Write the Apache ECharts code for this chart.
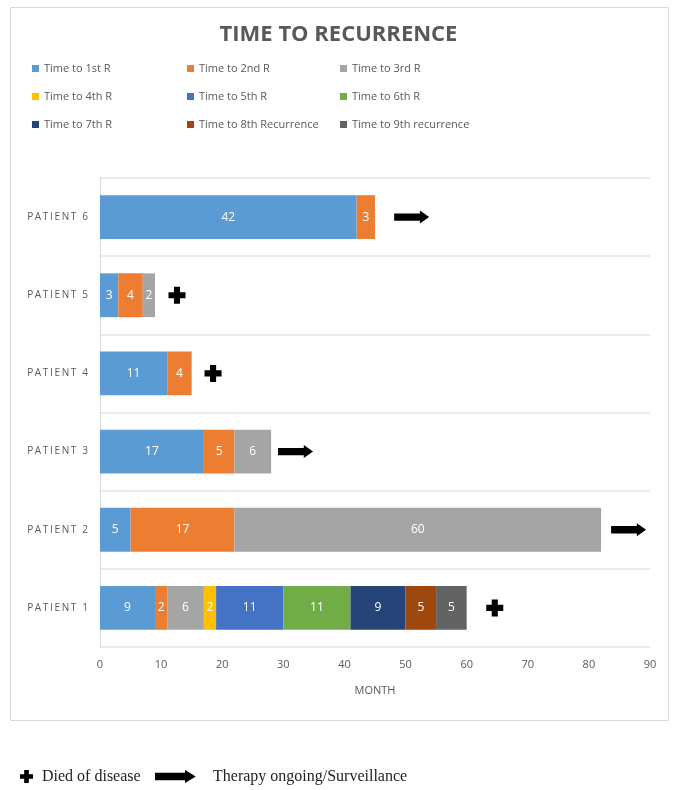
<!DOCTYPE html>
<html>
<head>
<meta charset="utf-8">
<script src="https://cdn.jsdelivr.net/npm/echarts@6/dist/echarts.min.js"></script>
<style>
  html, body { margin: 0; padding: 0; background: #fff; }
  #chart { width: 677px; height: 790px; }
</style>
</head>
<body>
<div id="chart"></div>
<script>
const patients = ["Patient 1", "Patient 2", "Patient 3", "Patient 4", "Patient 5", "Patient 6"];

const seriesNames = [
    "Time to 1st R", "Time to 2nd R", "Time to 3rd R",
    "Time to 4th R", "Time to 5th R", "Time to 6th R",
    "Time to 7th R", "Time to 8th Recurrence", "Time to 9th recurrence"
];

const colors = ["#5B9BD5", "#ED7D31", "#A5A5A5", "#FFC000", "#4472C4", "#70AD47", "#264478", "#9E480E", "#636363"];

// one array per recurrence, values per patient 1..6
const r1 = [9, 5, 17, 11, 3, 42];
const r2 = [2, 17, 5, 4, 4, 3];
const r3 = [6, 60, 6, null, 2, null];
const r4 = [2, null, null, null, null, null];
const r5 = [11, null, null, null, null, null];
const r6 = [11, null, null, null, null, null];
const r7 = [9, null, null, null, null, null];
const r8 = [5, null, null, null, null, null];
const r9 = [5, null, null, null, null, null];
const recurrences = [r1, r2, r3, r4, r5, r6, r7, r8, r9];

// outcome markers: [month, patient]
const died = [[64.6, "Patient 1"], [18.5, "Patient 4"], [12.6, "Patient 5"]];
const ongoing = [[86.5, "Patient 2"], [32, "Patient 3"], [51, "Patient 6"]];

const plusPts = [[3.2, 0], [6.8, 0], [6.8, 3.2], [10, 3.2], [10, 6.8], [6.8, 6.8], [6.8, 10], [3.2, 10], [3.2, 6.8], [0, 6.8], [0, 3.2], [3.2, 3.2]];
const arrowPts = [[0, 2.2], [25, 2.2], [25, 0], [34, 5], [25, 10], [25, 7.8], [0, 7.8]];

function toPath(pts) {
    return "path://M" + pts.map(function (p) { return p[0] + "," + p[1]; }).join("L") + "Z";
}

const chart = echarts.init(document.getElementById("chart"));

function spaced(s) {
    return s.toUpperCase().split("").join("\u2009");
}

const barSeries = recurrences.map(function (vals, i) {
    return {
        name: seriesNames[i],
        type: "bar",
        stack: "total",
        barWidth: "56%",
        data: vals,
        itemStyle: { color: colors[i] },
        label: {
            show: true,
            position: "inside",
            color: "#fff",
            fontSize: 12,
            fontFamily: "Open Sans"
        }
    };
});

const legendText = { color: "#595959", fontSize: 11, fontFamily: "Open Sans" };
function column(left, names) {
    return {
        orient: "vertical",
        left: left,
        top: 58,
        itemWidth: 7,
        itemHeight: 7,
        itemGap: 17,
        icon: "rect",
        textStyle: legendText,
        data: names
    };
}

const option = {
    animation: false,
    title: {
        text: "TIME TO RECURRENCE",
        left: "center",
        top: 19,
        textStyle: { color: "#595959", fontSize: 22, fontWeight: "bold", fontFamily: "Open Sans" }
    },
    legend: [
        column(27, [seriesNames[0], seriesNames[3], seriesNames[6]]),
        column(182, [seriesNames[1], seriesNames[4], seriesNames[7]]),
        column(335, [seriesNames[2], seriesNames[5], seriesNames[8]])
    ],
    grid: { left: 100, right: 27, top: 178, bottom: 143 },
    xAxis: {
        type: "value",
        min: 0,
        max: 90,
        interval: 10,
        name: "MONTH",
        nameLocation: "middle",
        nameGap: 38,
        nameTextStyle: { color: "#595959", fontSize: 11, fontFamily: "Open Sans" },
        axisLine: { show: false },
        axisTick: { show: false },
        splitLine: { show: false },
        axisLabel: { color: "#595959", fontSize: 11, fontFamily: "Open Sans", margin: 12 }
    },
    yAxis: {
        type: "category",
        data: patients,
        axisLine: { show: true, lineStyle: { color: "#d9d9d9" } },
        axisTick: { show: false },
        splitLine: { show: true, lineStyle: { color: "#e3e3e3", width: 1.5 } },
        axisLabel: {
            color: "#595959",
            fontSize: 10,
            fontFamily: "Open Sans",
            margin: 12,
            formatter: spaced
        }
    },
    series: barSeries.concat([
        {
            name: "died",
            type: "scatter",
            data: died,
            symbol: toPath(plusPts),
            symbolSize: [17, 17],
            itemStyle: { color: "#000", opacity: 1 },
            z: 5
        },
        {
            name: "ongoing",
            type: "scatter",
            data: ongoing,
            symbol: toPath(arrowPts),
            symbolSize: [35, 13],
            itemStyle: { color: "#000", opacity: 1 },
            z: 5
        }
    ]),
    graphic: [
        {
            type: "rect",
            shape: { x: 10.5, y: 7.5, width: 658, height: 713 },
            style: { fill: "none", stroke: "#d9d9d9", lineWidth: 1 },
            silent: true
        },
        {
            type: "polygon",
            shape: { points: plusPts },
            x: 20, y: 770, scaleX: 1.3, scaleY: 1.3,
            style: { fill: "#000" }
        },
        {
            type: "text",
            x: 42, y: 777,
            style: { text: "Died of disease", fill: "#222", font: "16px 'Liberation Serif'", verticalAlign: "middle" }
        },
        {
            type: "polygon",
            shape: { points: arrowPts },
            x: 155, y: 770, scaleX: 1.2, scaleY: 1.3,
            style: { fill: "#000" }
        },
        {
            type: "text",
            x: 213, y: 777,
            style: { text: "Therapy ongoing/Surveillance", fill: "#222", font: "16px 'Liberation Serif'", verticalAlign: "middle" }
        }
    ]
};

chart.setOption(option);
</script>
</body>
</html>
